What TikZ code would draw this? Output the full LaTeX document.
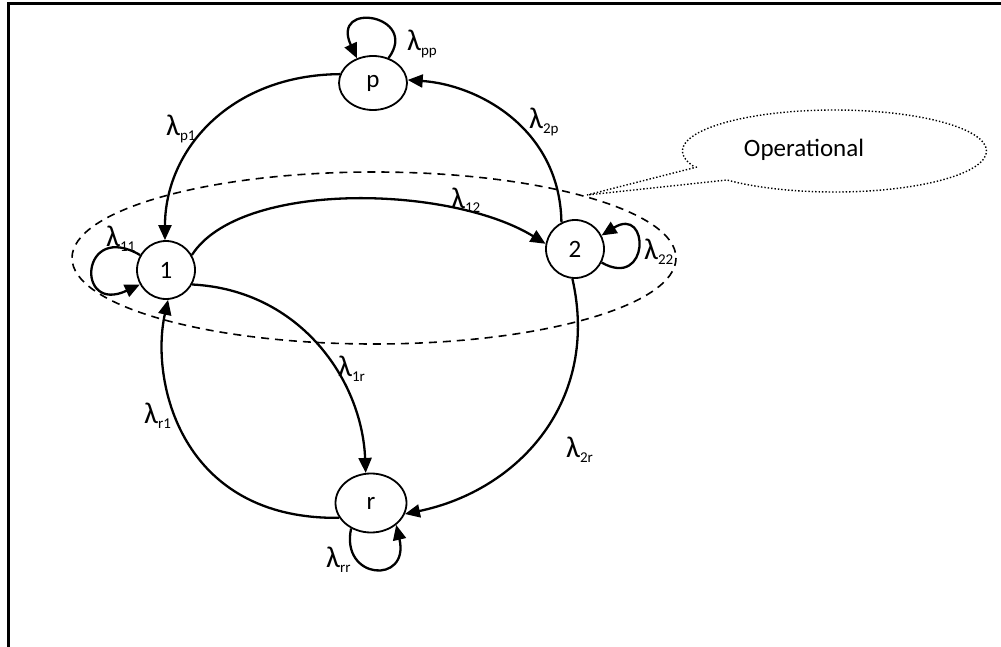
\documentclass[tikz,border=0pt]{standalone}
\usepackage{fontspec}
\setmainfont{Carlito}
\usetikzlibrary{arrows.meta,shapes.geometric}
\newcommand{\lbl}[1]{{\fontsize{30}{30}\selectfont λ}\raisebox{-5pt}{\fontsize{15}{15}\selectfont #1}}
\begin{document}
\begin{tikzpicture}[x=1pt,y=-1pt,
  every node/.style={font=\fontsize{25}{30}\selectfont},
  state/.style={draw,line width=1.8pt,circle,minimum size=58pt,inner sep=0pt},
  oval/.style={draw,line width=1.8pt,ellipse,inner sep=0pt},
  edge/.style={line width=2.3pt,-{Triangle[length=15pt,width=13pt]}},
  lab/.style={anchor=base west,inner sep=0pt}]
\useasboundingbox (0,0) rectangle (1001,647);
% frame
\draw[line width=3pt] (8,647) -- (8,4) -- (1001,4);
% operational region
\draw[dashed,line width=1.6pt,dash pattern=on 8pt off 6pt] (374,258) ellipse [x radius=302, y radius=86];
% callout
\node (op) at (804,150) {Operational};
\coordinate (tip) at (587,195);
\draw[dotted,line width=1.4pt] (697,167) -- (tip) -- (727,180)
  arc[start angle=135,end angle=-203,x radius=152,y radius=41];
% states
\node[oval,minimum width=68pt,minimum height=54pt] (p) at (373,83) {p};
\node[state] (n1) at (166,270) {1};
\node[state] (n2) at (575,249) {2};
\node[oval,minimum width=71pt,minimum height=59pt] (r) at (371,503) {r};
% transitions
\draw[edge] (p.165) .. controls (230,75) and (165,150) .. (n1.92);
\draw[edge] (n2.117) .. controls (560,130) and (480,85) .. (p.5);
\draw[edge] (n1.30) .. controls (240,180) and (450,185) .. (n2.170);
\draw[edge] (n1.-29) .. controls (300,290) and (362,380) .. (r.100);
\draw[edge] (r.205) .. controls (180,520) and (150,380) .. (n1.-86);
\draw[edge] (n2.-95) .. controls (600,400) and (520,490) .. (r.-18);
% self loops
\draw[edge] (p.58) .. controls (420,15) and (330,0) .. (p.123);
\draw[edge] (n1.150) .. controls (80,220) and (75,315) .. (n1.209);
\draw[edge] (n2.-27) .. controls (650,290) and (650,205) .. (n2.27);
\draw[edge] (r.-128) .. controls (340,580) and (410,585) .. (r.-41);
% labels
\node[lab] (lpp) at (407,51) {\lbl{pp}};
\node[lab] (lp1) at (166,136) {\lbl{p1}};
\node[lab] (l2p) at (529,129) {\lbl{2p}};
\node[lab] (l12) at (451,208) {\lbl{12}};
\node[lab] (l11) at (106,247) {\lbl{11}};
\node[lab] (l22) at (644,259) {\lbl{22}};
\node[lab] (l1r) at (338,376) {\lbl{1r}};
\node[lab] (lr1) at (144,423) {\lbl{r1}};
\node[lab] (l2r) at (566,457) {\lbl{2r}};
\node[lab] (lrr) at (326,567) {\lbl{rr}};
\end{tikzpicture}
\end{document}
